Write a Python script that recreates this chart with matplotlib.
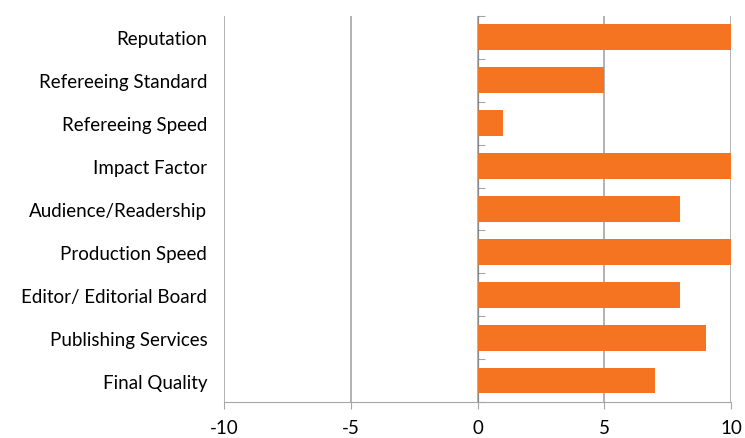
import matplotlib.pyplot as plt
import numpy as np

plt.rcParams['font.family'] = ['Lato', 'DejaVu Sans']

# Données
criteres = ["Reputation", "Refereeing Standard", "Refereeing Speed", "Impact Factor",
            "Audience/Readership", "Production Speed", "Editor/ Editorial Board",
            "Publishing Services", "Final Quality"]
scores = [10, 5, 1, 10, 8, 10, 8, 9, 7]
graduations = [-10, -5, 0, 5, 10]

orange = "#F47422"
gris = "#A6A6A6"

fig = plt.figure(figsize=(7.45, 4.39), dpi=100)
ax = fig.add_axes([0.3007, 0.082, 0.6805, 0.8795])

y = np.arange(len(criteres))
ax.barh(y, scores, height=0.6, color=orange, zorder=3)

ax.set_xlim(-10, 10)
ax.set_ylim(len(criteres) - 0.5, -0.5)
ax.set_xticks(graduations)
ax.set_xticklabels([str(g) for g in graduations], fontsize=13.5)
ax.set_yticks(y)
ax.set_yticklabels(criteres, fontsize=13.5)

ax.grid(axis='x', color=gris, linewidth=1.2, zorder=0)
for s in ['top', 'right', 'left']:
    ax.spines[s].set_visible(False)
ax.spines['bottom'].set_color(gris)
ax.tick_params(axis='y', length=0, pad=12)
ax.tick_params(axis='x', length=5, color=gris, pad=7)

# Axe vertical au zéro avec graduations entre catégories
sec = ax.secondary_yaxis(0.5)
sec.set_yticks(np.arange(len(criteres) + 1) - 0.5)
sec.set_yticklabels([])
sec.spines['left'].set_color(gris)
sec.tick_params(axis='y', length=5, color=gris, direction='out')

fig.savefig("out.png", dpi=100)
